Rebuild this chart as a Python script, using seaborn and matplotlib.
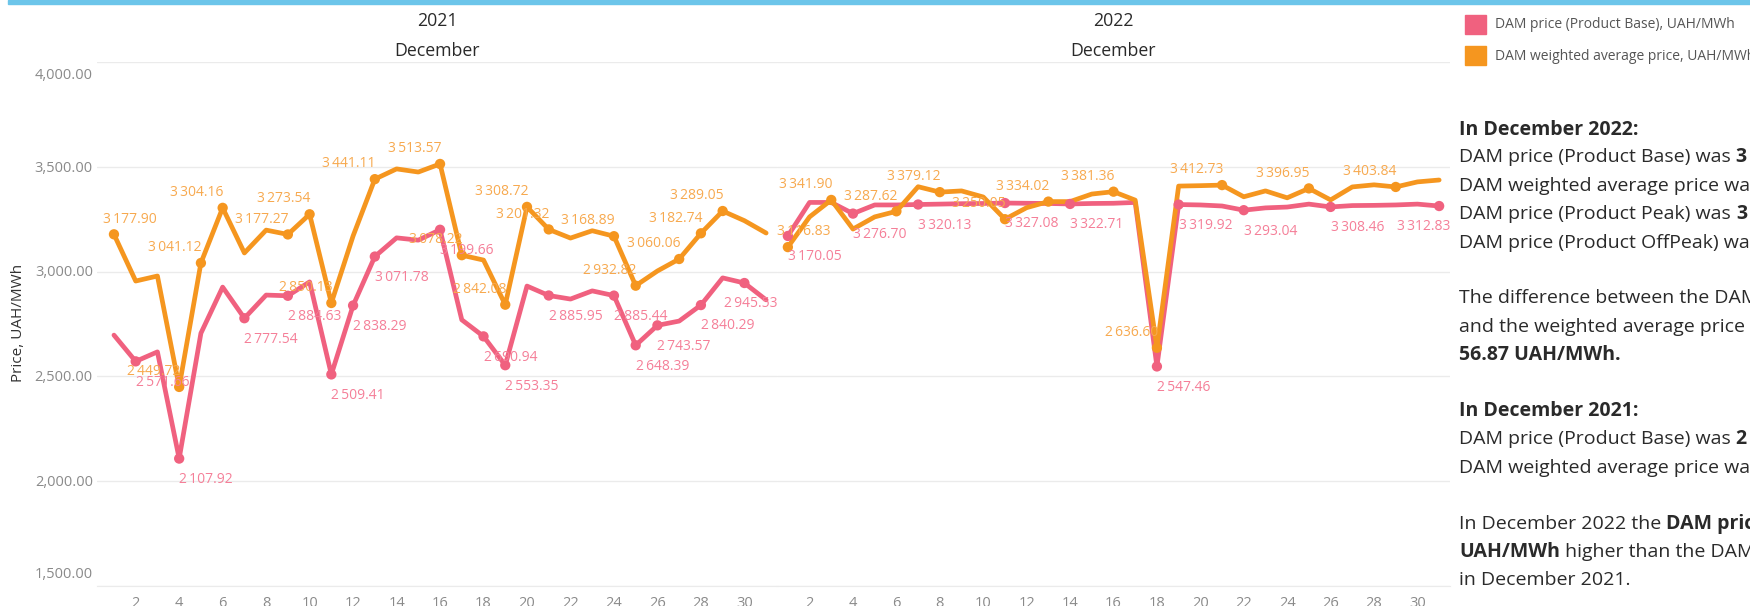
import numpy as np
import pandas as pd
import matplotlib.pyplot as plt
import matplotlib.patches as mpatches
import seaborn as sns

# daily prices, UAH/MWh
days = list(range(1, 32))
series_names = ["DAM price (Product Base), UAH/MWh", "DAM weighted average price, UAH/MWh"]

base_2021 = [2697, 2571.66, 2617, 2107.92, 2706, 2926, 2777.54, 2888, 2884.63, 2951,
             2509.41, 2838.29, 3071.78, 3161, 3150, 3199.66, 2770, 2690.94, 2553.35, 2931,
             2885.95, 2869, 2908, 2885.44, 2648.39, 2743.57, 2764, 2840.29, 2970, 2945.53, 2865]
weighted_2021 = [3177.90, 2955, 2979, 2449.72, 3041.12, 3304.16, 3089, 3198, 3177.27, 3273.54,
                 2850.13, 3170, 3441.11, 3490, 3475, 3513.57, 3078.22, 3055, 2842.08, 3308.72,
                 3201.32, 3160, 3195, 3168.89, 2932.82, 3003, 3060.06, 3182.74, 3289.05, 3243, 3184]
base_2022 = [3170.05, 3330, 3330, 3276.70, 3318, 3318, 3320.13, 3322, 3324, 3325,
             3327.08, 3326, 3325, 3322.71, 3325, 3326, 3330, 2547.46, 3319.92, 3318,
             3313, 3293.04, 3304, 3308, 3322, 3308.46, 3315, 3316, 3318, 3322, 3312.83]
weighted_2022 = [3116.83, 3261, 3341.90, 3203, 3261, 3287.62, 3405, 3379.12, 3385, 3356,
                 3250.05, 3305, 3334.02, 3334, 3370, 3381.36, 3341, 2636.60, 3408, 3410,
                 3412.73, 3357, 3385, 3352, 3396.95, 3342, 3404, 3414, 3403.84, 3428, 3437]

# days that carry a marker + value label
marked_base_2021 = [2, 4, 7, 9, 11, 12, 13, 16, 18, 19, 21, 24, 25, 26, 28, 30]
marked_weighted_2021 = [1, 4, 5, 6, 9, 10, 11, 13, 16, 17, 19, 20, 21, 24, 25, 27, 28, 29]
marked_base_2022 = [1, 4, 7, 11, 14, 18, 19, 22, 26, 31]
marked_weighted_2022 = [1, 3, 6, 8, 11, 13, 16, 18, 21, 25, 29]

pink = "#F0617F"
orange = "#F5961F"
pink_lbl = "#F57F98"
orange_lbl = "#F7A94F"
grid_c = "#EBEBEB"
tick_c = "#8A8A8A"
text_c = "#2A2A2A"

sns.set_style("white")
plt.rcParams["font.family"] = ["Open Sans", "DejaVu Sans"]

W, H = 1750, 606
fig = plt.figure(figsize=(W / 100, H / 100), dpi=100)

ax1 = fig.add_axes([97 / W, 20 / H, 680 / W, 524 / H])
ax2 = fig.add_axes([777 / W, 20 / H, 673 / W, 524 / H])


def fmt(v):
    return f"{v:,.2f}".replace(",", "\u2009")


def draw_panel(ax, base, weighted, mb, mw, xlim):
    df = pd.DataFrame({
        "day": days * 2,
        "price": base + weighted,
        "series": [series_names[0]] * 31 + [series_names[1]] * 31,
    })
    sns.lineplot(data=df, x="day", y="price", hue="series", palette=[pink, orange],
                 linewidth=3.4, legend=False, ax=ax, sort=False)
    mk = pd.concat([
        df[(df["series"] == series_names[0]) & df["day"].isin(mb)],
        df[(df["series"] == series_names[1]) & df["day"].isin(mw)],
    ])
    sns.scatterplot(data=mk, x="day", y="price", hue="series", palette=[pink, orange],
                    s=55, linewidth=0, legend=False, ax=ax, zorder=3)

    # value labels: base below-right, weighted above-left, kept inside the pane
    for d in mb:
        v = base[d - 1]
        if d + 2.25 > xlim[1]:
            x, ha = xlim[1], "right"
        else:
            x, ha = d, "left"
        ax.annotate(fmt(v), xy=(x, v), xytext=(0, -15), textcoords="offset points",
                    ha=ha, va="center", fontsize=10, color=pink_lbl, zorder=4)
    for d in mw:
        v = weighted[d - 1]
        if d - 2.25 < 0.5:
            x, ha = 0.5, "left"
        else:
            x, ha = d + 0.05, "right"
        ax.annotate(fmt(v), xy=(x, v), xytext=(0, 11), textcoords="offset points",
                    ha=ha, va="center", fontsize=10, color=orange_lbl, zorder=4)

    ax.set_xlim(*xlim)
    ax.set_ylim(1500, 4000)
    ax.set_yticks(np.arange(1500, 4001, 500))
    ax.set_yticklabels([])
    ax.tick_params(axis="y", length=0)
    ax.grid(axis="y", color=grid_c, linewidth=1)
    ax.grid(axis="x", visible=False)
    ax.set_xticks(list(range(2, 31, 2)))
    ax.set_xticklabels([str(d) for d in range(2, 31, 2)])
    ax.set_xticks([k + 0.5 for k in range(1, 31)], minor=True)
    ax.tick_params(axis="x", which="major", length=0, pad=7, labelsize=10.5, labelcolor=tick_c)
    ax.tick_params(axis="x", which="minor", length=4, width=1, color="#E2E2E2", direction="out")
    ax.set_xlabel("")
    ax.set_ylabel("")
    for s in ["top", "left", "right"]:
        ax.spines[s].set_visible(False)
    ax.spines["bottom"].set_color(grid_c)
    ax.set_facecolor("none")


draw_panel(ax1, base_2021, weighted_2021, marked_base_2021, marked_weighted_2021, (0.22, 31.5))
draw_panel(ax2, base_2022, weighted_2022, marked_base_2022, marked_weighted_2022, (0.5, 31.5))

# y tick labels, top and bottom ones nudged inside like the original
for v in range(1500, 4001, 500):
    dy = -10 if v == 4000 else (8 if v == 1500 else -1)
    ax1.annotate(f"{v:,.2f}", xy=(0, v), xycoords=("axes fraction", "data"),
                 xytext=(-3, dy), textcoords="offset points", ha="right", va="center",
                 fontsize=10.5, color=tick_c, annotation_clip=False)

fig.text(19 / W, 1 - 323 / H, "Price, UAH/MWh", rotation=90, ha="center", va="center",
         fontsize=11, color="#333333")

# column headers
for cx, yr in [((97 + 777) / 2, "2021"), ((777 + 1450) / 2, "2022")]:
    fig.text(cx / W, 1 - 21 / H, yr, ha="center", va="center", fontsize=12.8, color=text_c)
    fig.text(cx / W, 1 - 51 / H, "December", ha="center", va="center", fontsize=12.8, color=text_c)

# top accent bar
fig.patches.append(mpatches.Rectangle((8 / W, 1 - 4 / H), 1, 4 / H, transform=fig.transFigure,
                                      color="#6CC5EA", zorder=5))

# legend
for i, (name, c) in enumerate(zip(series_names, [pink, orange])):
    top = 15 + i * 31
    fig.patches.append(mpatches.Rectangle((1465 / W, 1 - (top + 19) / H), 21 / W, 19 / H,
                                          transform=fig.transFigure, color=c))
    fig.text(1495 / W, 1 - (top + 10) / H, name, ha="left", va="center", fontsize=10, color="#555555")

# commentary block
mean_b22 = np.mean(base_2022)
mean_w22 = np.mean(weighted_2022)
mean_b21 = np.mean(base_2021)
mean_w21 = np.mean(weighted_2021)

lines = [
    (130, [("In December 2022:", True)]),
    (157, [("DAM price (Product Base) was ", False), (fmt(mean_b22) + " UAH/MWh", True)]),
    (186, [("DAM weighted average price was ", False), (fmt(mean_w22) + " UAH/MWh", True)]),
    (214, [("DAM price (Product Peak) was ", False), ("3", True)]),
    (243, [("DAM price (Product OffPeak) was", False)]),
    (298, [("The difference between the DAM price (Product Base)", False)]),
    (327, [("and the weighted average price was", False)]),
    (355, [("56.87 UAH/MWh.", True)]),
    (411, [("In December 2021:", True)]),
    (439, [("DAM price (Product Base) was ", False), (fmt(mean_b21) + " UAH/MWh", True)]),
    (468, [("DAM weighted average price was ", False), (fmt(mean_w21) + " UAH/MWh", True)]),
    (524, [("In December 2022 the ", False), ("DAM price (Product Base)", True)]),
    (552, [("UAH/MWh", True), (" higher than the DAM price (Product Base)", False)]),
    (580, [("in December 2021.", False)]),
]
for y, parts in lines:
    last = None
    for txt, bold in parts:
        kw = dict(ha="left", va="center", fontsize=14, color=text_c,
                  fontweight="bold" if bold else "normal")
        if last is None:
            last = fig.text(1459 / W, 1 - y / H, txt, **kw)
        else:
            last = ax1.annotate(txt, xy=(1, 0.5), xycoords=last, annotation_clip=False, **kw)

fig.savefig("out.png", dpi=100)
